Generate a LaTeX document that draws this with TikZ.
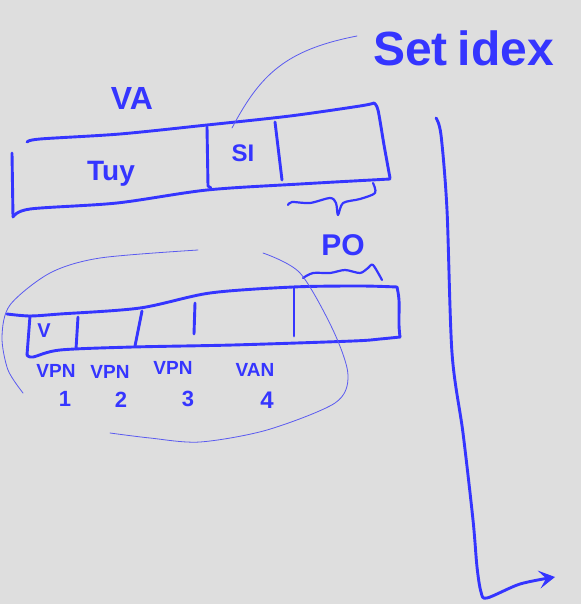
\documentclass[tikz,border=0pt]{standalone}
\usepackage{fontspec}
\setmainfont{Liberation Sans}
\usetikzlibrary{arrows.meta}
\definecolor{bgc}{HTML}{DEDEDE}
\definecolor{ink}{HTML}{3535FF}
\definecolor{thin}{HTML}{5A5AF0}
\begin{document}
\begin{tikzpicture}[x=1pt,y=-1pt,
  pen/.style={draw=ink,line width=2.9pt,line cap=round,line join=round},
  fine/.style={draw=thin,line width=0.8pt,line cap=round},
  hand/.style={text=ink,inner sep=0pt,font=\bfseries\fontsize{#1}{#1}\selectfont},
  hand/.default=20]
\fill[bgc] (0,0) rectangle (581,604);
\useasboundingbox (0,0) rectangle (581,604);

% top VA box
\draw[pen] plot[smooth] coordinates {(27,142) (40,139) (120,134) (207,125) (290,116) (360,106) (374,103)};
\draw[pen] plot[smooth] coordinates {(374,103) (378,110) (384,145) (390,178)};
\draw[pen] plot[smooth] coordinates {(13,217) (30,209) (117,203) (207,190) (300,184) (390,179)};
\draw[pen] (12,153) -- (13,217);
\draw[pen] (207,127) -- (208,186) -- (211,188);
\draw[pen] (275,122) -- (282,180);
\node[hand=32] (va) at (132,98) {VA};
\node[hand=28] (tag) at (111,174) {Tuy};
\node[hand=24] (si) at (243,153) {SI};

% brace under top right field
\draw[pen,line width=2.2pt] plot[smooth] coordinates {(288,205) (292,202) (310,203) (330,198) (336,203) (338,215) (343,203) (360,199) (375,193) (373,183)};

% thin line from SI to Set idex
\coordinate (sitop) at (232,128);
\draw[fine] (sitop) .. controls (260,75) and (285,50) .. (357,36);
\node[hand=48,anchor=west] (setidx) at (373,48) {Set\hspace{10pt}idex};

% long arrow
\coordinate (astart) at (436,118);
\coordinate (aend) at (555,577);
\draw[pen,-{Stealth[length=16pt,width=18pt,inset=7pt]}] plot[smooth] coordinates {(astart) (441,135) (447,210) (452,353) (463,433) (473,520) (477,567) (481,592) (487,598) (520,584) (aend)};

% PO brace and label
\node[hand=30] (po) at (343,245) {PO};
\draw[pen,line width=2.2pt] plot[smooth] coordinates {(303,278) (313,273) (330,273) (345,270) (360,273) (368,268) (373,265) (382,280)};

% lower box
\draw[pen] plot[smooth] coordinates {(7,314) (30,316) (60,314) (140,308) (210,293) (293,287) (360,286) (397,287)};
\draw[pen] plot[smooth] coordinates {(397,287) (399,300) (399,325) (400,337)};
\draw[pen] plot[smooth] coordinates {(400,337) (380,339) (353,341) (233,345) (133,347) (60,350) (33,357) (27,355)};
\draw[pen] (30,316) -- (27,355);
\draw[pen] (78,317) -- (76,349);
\draw[pen] (142,311) -- (135,346);
\draw[pen] (195,303) -- (194,334);
\draw[pen] (294,288) -- (294,336);

\node[hand=20] (v) at (44,331) {V};
\node[hand=19] (vpn1) at (56,371) {VPN};
\node[hand=22] (n1) at (65,399) {1};
\node[hand=19] (vpn2) at (110,372) {VPN};
\node[hand=22] (n2) at (121,400) {2};
\node[hand=19] (vpn3) at (173,368) {VPN};
\node[hand=22] (n3) at (188,399) {3};
\node[hand=19] (vpn4) at (255,370) {VAN};
\node[hand=24] (n4) at (267,400) {4};

% thin loop around VPNs
\draw[fine] plot[smooth] coordinates {(23,393) (8,370) (2,337) (10,305) (50,273) (100,258) (198,250)};
\draw[fine] plot[smooth] coordinates {(263,253) (300,273) (333,330) (348,375) (335,403) (267,430) (200,442) (150,438) (110,433)};
\end{tikzpicture}
\end{document}
